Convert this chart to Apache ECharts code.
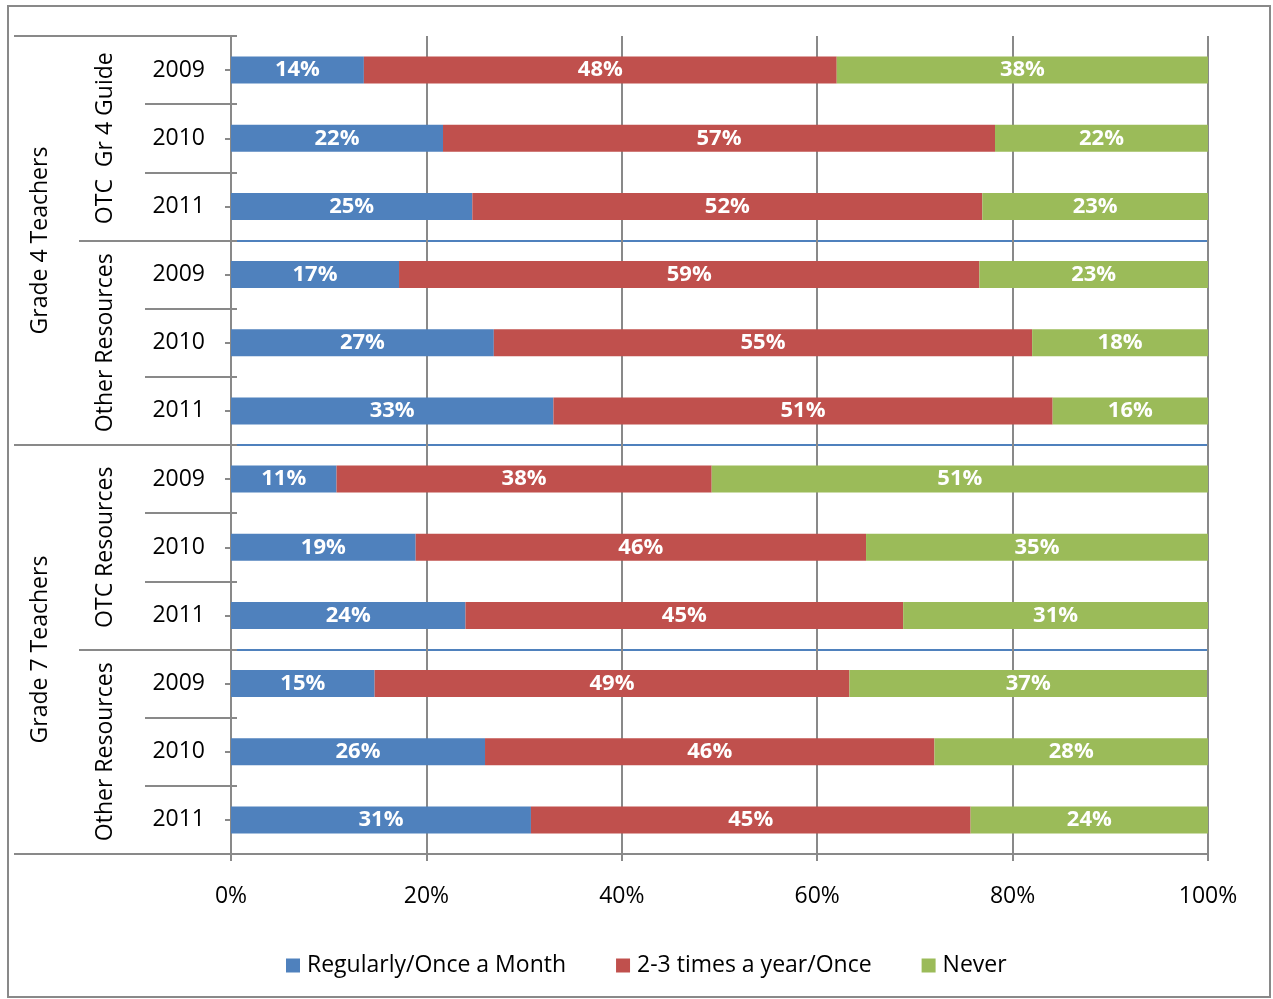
<!DOCTYPE html>
<html>
<head>
<meta charset="utf-8">
<script src="https://cdn.jsdelivr.net/npm/echarts@6/dist/echarts.min.js"></script>
<style>html,body{margin:0;padding:0;background:#fff}#c{width:1273px;height:999px}</style>
</head>
<body>
<div id="c"></div>
<script>
const years = ['2009','2010','2011','2009','2010','2011','2009','2010','2011','2009','2010','2011'];
const subgroups = ['OTC  Gr 4 Guide','Other Resources','OTC Resources','Other Resources'];
const groups = ['Grade 4 Teachers','Grade 7 Teachers'];
const seriesNames = ['Regularly/Once a Month','2-3 times a year/Once','Never'];
const regularly = [13.6,21.7,24.7,17.2,26.9,33.0,10.8,18.9,24.0,14.7,26.0,30.7];
const sometimes = [48.4,56.5,52.2,59.4,55.1,51.1,38.4,46.1,44.8,48.6,46.0,45.0];
const never     = [38.0,21.8,23.1,23.4,18.0,15.9,50.8,35.0,31.2,36.6,28.0,24.3];
const colors = ['#4F81BD','#C0504D','#9BBB59'];

const FONT = 'Open Sans';
const gray = '#898989';
const FS = 23;
const chart = echarts.init(document.getElementById('c'));
const lbl = {show:true, position:'inside', color:'#fff', fontWeight:'bold', fontSize:22, fontFamily:FONT,
  formatter: p => Math.round(p.value) + '%'};
function mk(name, data, i){
  return {name, type:'bar', stack:'s', data, barWidth:27, yAxisIndex:0,
    itemStyle:{color:colors[i]}, label:lbl, emphasis:{disabled:true}};
}
chart.setOption({
  animation:false,
  textStyle:{fontFamily:FONT},
  graphic:[{type:'rect', shape:{x:8,y:6,width:1262,height:991}, style:{fill:null, stroke:gray, lineWidth:2}, silent:true, z:-1}],
  grid:{left:231, right:65, top:36, bottom:145, outerBoundsMode:'none', containLabel:false},
  legend:{top:949, left:281, itemWidth:14, itemHeight:14, itemGap:50, icon:'rect',
    textStyle:{fontSize:FS, color:'#000', fontFamily:FONT, padding:[0,0,0,2]}, data:seriesNames},
  xAxis:{type:'value', min:0, max:100, interval:20,
    axisLine:{show:true, lineStyle:{color:gray, width:2}},
    axisTick:{show:true, length:7, lineStyle:{color:gray, width:2}},
    axisLabel:{formatter:'{value}%', fontSize:FS, color:'#000', margin:31, fontFamily:FONT},
    splitLine:{show:true, lineStyle:{color:gray, width:2}}},
  yAxis:[
    {type:'category', position:'left', data:years, inverse:true,
      axisLine:{show:true, lineStyle:{color:gray, width:2}},
      axisTick:{show:true, alignWithLabel:true, interval:0, length:6, lineStyle:{color:gray, width:2}},
      axisLabel:{interval:0, fontSize:FS, color:'#000', margin:26, fontFamily:FONT}},
    {type:'category', position:'left', data:years, inverse:true, offset:-6,
      axisLine:{show:false},
      axisTick:{show:true, interval:0, length:92, lineStyle:{color:gray, width:2}},
      axisLabel:{show:false}},
    {type:'category', position:'left', data:subgroups, inverse:true, offset:-6,
      axisLine:{show:false},
      axisTick:{show:true, interval:0, length:158, lineStyle:{color:gray, width:2}},
      axisLabel:{show:true, interval:0, rotate:90, fontSize:FS, color:'#000', margin:120, fontFamily:FONT},
      splitLine:{show:true, interval:0, showMinLine:false, showMaxLine:false, lineStyle:{color:'#4F81BD', width:2}}},
    {type:'category', position:'left', data:groups, inverse:true, offset:-6,
      axisLine:{show:false},
      axisTick:{show:true, interval:0, length:223, lineStyle:{color:gray, width:2}},
      axisLabel:{show:true, interval:0, rotate:90, fontSize:FS, color:'#000', margin:185, fontFamily:FONT},
      splitLine:{show:false}}
  ],
  series:[mk(seriesNames[0], regularly, 0), mk(seriesNames[1], sometimes, 1), mk(seriesNames[2], never, 2)]
});
</script>
</body>
</html>
